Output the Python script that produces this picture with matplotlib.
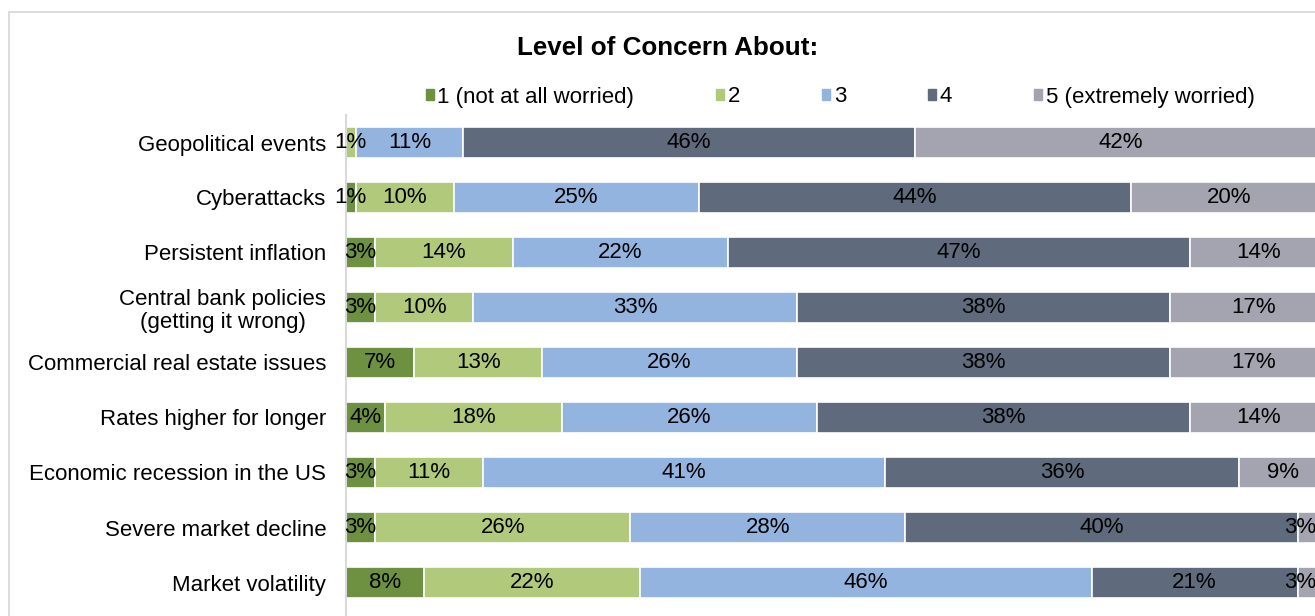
import matplotlib.pyplot as plt
from matplotlib.patches import Rectangle
import numpy as np

plt.rcParams['font.family'] = ['Liberation Sans', 'DejaVu Sans']

# survey answers, share of respondents (%) per worry level
categories = ['Geopolitical events', 'Cyberattacks', 'Persistent inflation',
              'Central bank policies\n(getting it wrong)', 'Commercial real estate issues',
              'Rates higher for longer', 'Economic recession in the US',
              'Severe market decline', 'Market volatility']
level_names = ['1 (not at all worried)', '2', '3', '4', '5 (extremely worried)']
level_1 = [0, 1, 3, 3, 7, 4, 3, 3, 8]
level_2 = [1, 10, 14, 10, 13, 18, 11, 26, 22]
level_3 = [11, 25, 22, 33, 26, 26, 41, 28, 46]
level_4 = [46, 44, 47, 38, 38, 38, 36, 40, 21]
level_5 = [42, 20, 14, 17, 17, 14, 9, 3, 3]

COLORS = ['#6d9140', '#b0c97a', '#94b4e0', '#5f6b7d', '#a4a4b0']
BORDER = '#d9d9d9'
W, H = 1315, 616
X_MAX = 98.77
FS = 16

fig = plt.figure(figsize=(W / 100, H / 100), dpi=100)

# outer chart frame (runs off the right and bottom)
fig.patches.append(Rectangle((9 / W, -0.1), 1.2, 1 - 11.7 / H + 0.1, transform=fig.transFigure,
                             fill=False, edgecolor=BORDER, linewidth=1.3))

ax = fig.add_axes([345.7 / W, 0, (W - 345.7) / W, 1 - 115 / H])

series = [level_1, level_2, level_3, level_4, level_5]
y = np.arange(len(categories))
left = np.zeros(len(categories))
for vals, color, name in zip(series, COLORS, level_names):
    vals = np.array(vals, dtype=float)
    ax.barh(y, vals, left=left, height=0.55, color=color, edgecolor='white',
            linewidth=1.2, label=name)
    for yi, (l, v) in enumerate(zip(left, vals)):
        if v > 0:
            cx = min(l + v / 2, X_MAX - 1.5)
            ax.text(cx, yi, '{:.0f}%'.format(v), ha='center', va='center',
                    fontsize=FS, color='black', clip_on=False)
    left += vals

ax.set_xlim(0, X_MAX)
ax.set_ylim(-0.5 + (H - 115) / 55, -0.5)
ax.set_yticks(y)
ax.set_yticklabels(categories, fontsize=FS)
for lab in ax.get_yticklabels():
    lab.set_multialignment('center')
    lab.set_linespacing(1.1)
ax.tick_params(axis='y', length=0, pad=14)
ax.set_xticks([])
for s in ['top', 'right', 'bottom']:
    ax.spines[s].set_visible(False)
ax.spines['left'].set_color(BORDER)
ax.spines['left'].set_linewidth(1.5)

fig.text(667.5 / W, 1 - 55 / H, 'Level of Concern About:', ha='center', va='baseline',
         fontsize=18.75, fontweight='bold')

handles = [Rectangle((0, 0), 1, 1, color=c) for c in COLORS]
fig.legend(handles, level_names, loc='center left', bbox_to_anchor=(426 / W, 1 - 97 / H),
           ncol=5, frameon=False, fontsize=FS, handlelength=0.36, handleheight=0.36,
           handletextpad=0.15, columnspacing=3.7, borderpad=0, borderaxespad=0)

plt.savefig('out.png', dpi=100)
